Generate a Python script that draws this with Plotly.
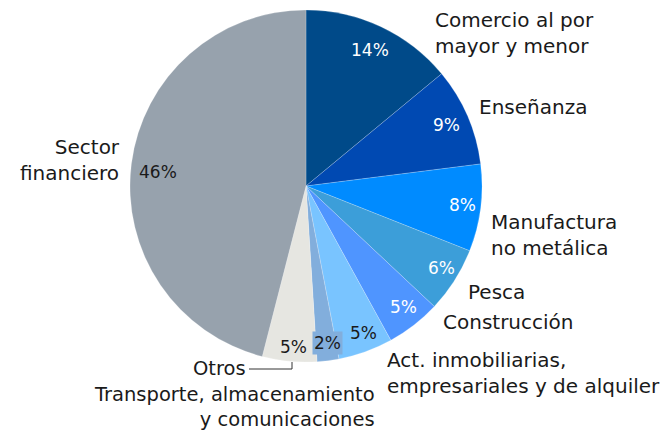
import plotly.graph_objects as go

# Participation by economic sector (%)
sectors = [
    "Comercio al por mayor y menor",
    "Enseñanza",
    "Manufactura no metálica",
    "Pesca",
    "Construcción",
    "Act. inmobiliarias, empresariales y de alquiler",
    "Transporte, almacenamiento y comunicaciones",
    "Otros",
    "Sector financiero",
]
shares = [14, 9, 8, 6, 5, 5, 2, 5, 46]
colors = ["#004A89", "#0049B2", "#008BFF", "#3C9ED9", "#4F95FF",
          "#79C4FF", "#82AEDC", "#E6E6E1", "#97A2AD"]

W, H = 669, 430
cx, cy, R = 306, 186, 176
FONT = "DejaVu Sans"


def px(x):
    return x / W


def py(y):
    return 1 - y / H


fig = go.Figure(go.Pie(
    labels=sectors,
    values=shares,
    sort=False,
    direction="clockwise",
    rotation=0,
    textinfo="none",
    hoverinfo="label+percent",
    marker=dict(colors=colors, line=dict(color="rgba(255,255,255,0.4)", width=0.5)),
    domain=dict(x=[px(cx - R), px(cx + R)], y=[py(cy + R), py(cy - R)]),
    showlegend=False,
))

annotations = []

# Category names around the pie: (text, x, y, anchor, size)
name_layout = [
    ("Comercio al por<br>mayor y menor", 434, 33, "left", 20),
    ("Enseñanza", 478, 107, "left", 20),
    ("Manufactura<br>no metálica", 490, 235, "left", 20),
    ("Pesca", 467, 292, "left", 20),
    ("Construcción", 442, 322, "left", 20),
    ("Act. inmobiliarias,<br>empresariales y de alquiler", 386, 373, "left", 20),
    ("Transporte, almacenamiento<br>y comunicaciones", 376, 407, "right", 19.5),
    ("Otros", 247, 368, "right", 19.5),
    ("Sector<br>financiero", 121, 160, "right", 20),
]
for text, x, y, anchor, size in name_layout:
    annotations.append(dict(
        text=text, x=px(x), y=py(y), xref="paper", yref="paper",
        xanchor=anchor, yanchor="middle", align=anchor, showarrow=False,
        borderpad=0,
        font=dict(family=FONT, size=size, color="#1a1a1a"),
    ))

# Percent labels inside the slices
pct_layout = [
    (370, 50, "white", None),
    (446, 125, "white", None),
    (462, 205, "white", None),
    (441, 268, "white", None),
    (403, 307, "white", None),
    (363, 333, "#1a1a1a", None),
    (327, 343, "#1a1a1a", colors[6]),
    (293, 347, "#1a1a1a", None),
    (158, 172, "#1a1a1a", None),
]
for v, (x, y, col, bg) in zip(shares, pct_layout):
    ann = dict(
        text=f"{v}%", x=px(x), y=py(y), xref="paper", yref="paper",
        xanchor="center", yanchor="middle", showarrow=False,
        font=dict(family=FONT, size=17, color=col),
    )
    if bg:
        ann.update(bgcolor=bg, borderpad=1)
    annotations.append(ann)

# Leader line for "Otros"
shapes = [
    dict(type="line", xref="paper", yref="paper",
         x0=px(249), y0=py(369), x1=px(292), y1=py(369),
         line=dict(color="#333333", width=1)),
    dict(type="line", xref="paper", yref="paper",
         x0=px(292), y0=py(369), x1=px(292), y1=py(362),
         line=dict(color="#333333", width=1)),
]

fig.update_layout(
    width=W, height=H,
    margin=dict(l=0, r=0, t=0, b=0),
    paper_bgcolor="white",
    plot_bgcolor="white",
    annotations=annotations,
    shapes=shapes,
)

fig.write_html("out.html")
